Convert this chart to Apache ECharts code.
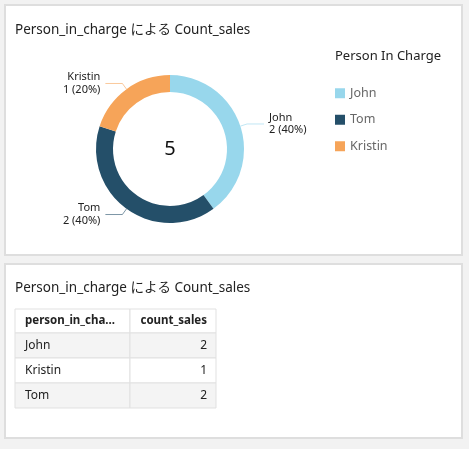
<!DOCTYPE html>
<html>
<head>
<meta charset="utf-8">
<script src="https://cdn.jsdelivr.net/npm/echarts@6/dist/echarts.min.js"></script>
<style>
html,body{margin:0;padding:0;background:#f2f2f2;}
#c{width:469px;height:449px;}
</style>
</head>
<body>
<div id="c"></div>
<script>
// ---- data ----
const chartTitle = 'Person_in_charge による Count_sales';
const legendTitle = 'Person In Charge';
const persons = ['John', 'Tom', 'Kristin'];
const counts = [2, 2, 1];
const colors = ['#98d7ec', '#244f69', '#f6a459'];
const tableHeaders = ['person_in_cha...', 'count_sales'];
const tableNames = ['John', 'Kristin', 'Tom'];
const tableCounts = [2, 1, 2];

const FONT = "'Noto Sans', 'Noto Sans CJK JP', sans-serif";
const total = counts.reduce((a, b) => a + b, 0);

const graphics = [];
// panels
graphics.push({type:'rect', z:-10, shape:{x:5,y:5,width:457,height:250}, style:{fill:'#fff', stroke:'#dedede', lineWidth:2}});
graphics.push({type:'rect', z:-10, shape:{x:5,y:264,width:457,height:174}, style:{fill:'#fff', stroke:'#dedede', lineWidth:2}});
// center total
graphics.push({type:'text', x:170, y:149, style:{text:String(total), font:'20px ' + FONT, fill:'#111', align:'center', verticalAlign:'middle'}});

// table
const tx = 15, ty = 309, colW = [115, 86], headH = 24, rowH = 25;
const tableRows = [tableHeaders].concat(tableNames.map((n, i) => [n, String(tableCounts[i])]));
tableRows.forEach((row, r) => {
  const y = r === 0 ? ty : ty + headH + (r - 1) * rowH;
  const h = r === 0 ? headH : rowH;
  let x = tx;
  row.forEach((cell, c) => {
    const fill = (r > 0 && r % 2 === 1) ? '#f4f4f4' : '#fff';
    graphics.push({type:'rect', shape:{x:x, y:y, width:colW[c], height:h}, style:{fill:fill, stroke:'#e1e1e1', lineWidth:1}});
    const right = c === 1;
    graphics.push({type:'text', x: right ? x + colW[c] - 9 : x + 10, y: y + h / 2,
      style:{text:cell, font:(r === 0 ? 'bold 11.5px ' : '12px ') + FONT, fill:'#222', align: right ? 'right' : 'left', verticalAlign:'middle'}});
    x += colW[c];
  });
});

const chart = echarts.init(document.getElementById('c'));
chart.setOption({
  animation: false,
  textStyle: {fontFamily: FONT},
  title: [
    {text: chartTitle, left: 15, top: 23, padding: 0, textStyle:{fontSize:13.5, fontWeight:'normal', color:'#222', fontFamily: FONT}},
    {text: chartTitle, left: 15, top: 281, padding: 0, textStyle:{fontSize:13.5, fontWeight:'normal', color:'#222', fontFamily: FONT}},
    {text: legendTitle, left: 335, top: 50, padding: 0, textStyle:{fontSize:13, fontWeight:'normal', color:'#222', fontFamily: FONT}}
  ],
  legend: {
    orient: 'vertical', left: 335, top: 87, padding: 0,
    itemWidth: 10, itemHeight: 10, itemGap: 14, icon: 'rect',
    textStyle: {fontSize: 12.5, color: '#666', fontFamily: FONT},
    data: persons
  },
  color: colors,
  series: [{
    type: 'pie',
    center: [170, 149],
    radius: [57, 74],
    startAngle: 90,
    clockwise: true,
    avoidLabelOverlap: true,
    label: {
      show: true, position: 'outside', formatter: '{b}\n{c} ({d}%)',
      fontSize: 11, lineHeight: 12.5, color: '#222', fontFamily: FONT
    },
    labelLine: {show: true, length: 7, length2: 17, lineStyle: {width: 1, opacity: 0.6}},
    emphasis: {disabled: true},
    data: persons.map((p, i) => ({name: p, value: counts[i]}))
  }],
  graphic: graphics
});
</script>
</body>
</html>
